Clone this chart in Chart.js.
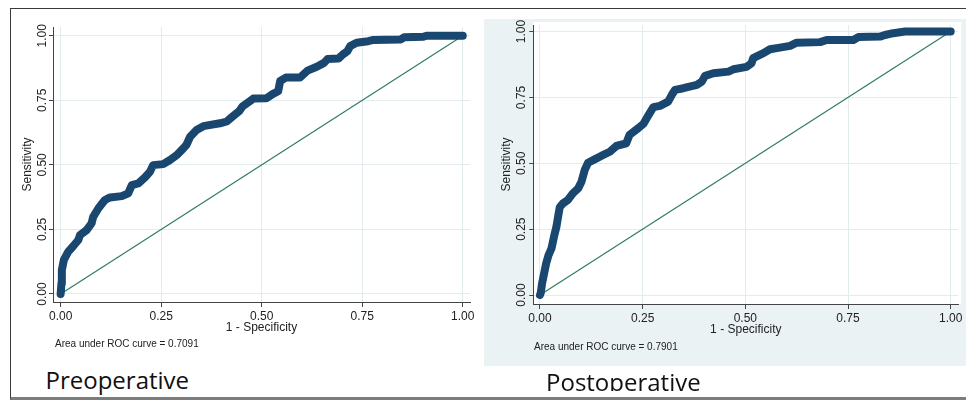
<!DOCTYPE html>
<html><head><meta charset="utf-8">
<script src="https://cdn.jsdelivr.net/npm/chart.js@4.4.1/dist/chart.umd.min.js"></script>
<style>
html,body{margin:0;padding:0;background:#fff;width:966px;height:403px;overflow:hidden;position:relative;font-family:"Liberation Sans",Arial,sans-serif;}
#frame{position:absolute;left:10px;top:8px;width:980px;height:392px;border-left:1.5px solid #3a3a3a;border-top:1.5px solid #3a3a3a;border-bottom:3px solid #7d7d7d;box-sizing:border-box;}
#panelR{position:absolute;left:484px;top:19px;width:482px;height:347px;background:#eaf2f3;}
canvas{position:absolute;}
#cPre{left:12px;top:12px;}
#cPost{left:486px;top:10px;}
.auc{position:absolute;font-size:10px;line-height:12px;color:#222;white-space:nowrap;}
.big{position:absolute;font-family:"Open Sans",sans-serif;font-size:24px;line-height:24px;color:#111;white-space:nowrap;}
#clip{position:absolute;left:0;top:0;width:966px;height:391px;overflow:hidden;}
</style></head>
<body>
<div id="frame"></div>
<div id="panelR"></div>
<canvas id="cPre" width="470" height="328"></canvas>
<canvas id="cPost" width="494" height="332"></canvas>
<div class="auc" style="left:55px;top:338px;">Area under ROC curve = 0.7091</div>
<div class="auc" style="left:534px;top:341px;">Area under ROC curve = 0.7901</div>
<div class="big" style="left:45.5px;top:367.5px;">Preoperative</div>
<div id="clip"><div class="big" style="left:546px;top:369.5px;">Postoperative</div></div>
<script>
// ---- data ----
const tickValues = [0, 0.25, 0.5, 0.75, 1];
const tickLabels = ['0.00', '0.25', '0.50', '0.75', '1.00'];
const xTitle = '1 - Specificity';
const yTitle = 'Sensitivity';
const refX = [0, 1];
const refY = [0, 1];

const preFpr = [0, 0.002, 0.003, 0.008, 0.019, 0.030, 0.044, 0.048, 0.065, 0.077, 0.081, 0.094, 0.110, 0.123, 0.152, 0.168, 0.177, 0.193, 0.210, 0.222, 0.230, 0.255, 0.272, 0.289, 0.305, 0.313, 0.322, 0.338, 0.355, 0.396, 0.413, 0.425, 0.444, 0.452, 0.472, 0.479, 0.512, 0.527, 0.541, 0.546, 0.560, 0.595, 0.614, 0.637, 0.655, 0.664, 0.691, 0.702, 0.713, 0.720, 0.736, 0.765, 0.778, 0.846, 0.854, 0.902, 0.910, 1.0];
const preTpr = [0, 0.041, 0.093, 0.132, 0.164, 0.183, 0.209, 0.228, 0.248, 0.274, 0.299, 0.332, 0.364, 0.374, 0.379, 0.390, 0.422, 0.428, 0.452, 0.473, 0.499, 0.503, 0.519, 0.538, 0.564, 0.578, 0.609, 0.635, 0.650, 0.661, 0.668, 0.684, 0.708, 0.726, 0.748, 0.757, 0.758, 0.774, 0.785, 0.825, 0.838, 0.838, 0.865, 0.880, 0.895, 0.910, 0.912, 0.928, 0.940, 0.960, 0.973, 0.979, 0.984, 0.986, 0.994, 0.996, 1.0, 1.0];

const postFpr = [0, 0.002, 0.005, 0.010, 0.015, 0.021, 0.028, 0.034, 0.040, 0.044, 0.048, 0.056, 0.068, 0.080, 0.093, 0.101, 0.109, 0.117, 0.133, 0.149, 0.170, 0.186, 0.210, 0.218, 0.239, 0.252, 0.265, 0.276, 0.292, 0.312, 0.321, 0.329, 0.349, 0.382, 0.394, 0.402, 0.422, 0.459, 0.471, 0.503, 0.515, 0.519, 0.544, 0.560, 0.584, 0.609, 0.625, 0.682, 0.698, 0.763, 0.775, 0.828, 0.840, 0.860, 0.889, 1.0];
const postTpr = [0, 0.009, 0.044, 0.082, 0.120, 0.152, 0.177, 0.221, 0.259, 0.297, 0.333, 0.348, 0.361, 0.386, 0.405, 0.430, 0.475, 0.502, 0.515, 0.528, 0.544, 0.566, 0.576, 0.608, 0.633, 0.650, 0.685, 0.713, 0.718, 0.734, 0.760, 0.779, 0.785, 0.798, 0.810, 0.832, 0.842, 0.848, 0.857, 0.866, 0.880, 0.899, 0.918, 0.933, 0.939, 0.946, 0.958, 0.960, 0.968, 0.968, 0.979, 0.981, 0.987, 0.994, 1.0, 1.0];

// ---- helpers ----
const FONT = '"Liberation Sans", Arial, sans-serif';
function pts(xs, ys){ return xs.map((x, i) => ({x: x, y: ys[i]})); }

function makeScale(isX, min, max, size, tickPad, tickLen, titlePad){
  return {
    type: 'linear', min: min, max: max,
    afterBuildTicks: s => { s.ticks = tickValues.map(v => ({value: v})); },
    afterFit: s => { if (isX) s.height = size; else s.width = size; },
    ticks: {
      autoSkip: false, padding: tickPad, color: '#222',
      font: {family: FONT, size: 12},
      minRotation: isX ? 0 : 90, maxRotation: isX ? 0 : 90,
      crossAlign: isX ? 'near' : 'center',
      callback: (v, i) => tickLabels[i]
    },
    grid: {color: '#e2ebee', lineWidth: 1, drawTicks: true, tickLength: tickLen, tickColor: '#444'},
    border: {display: true, color: '#444', width: 1},
    title: {display: true, text: isX ? xTitle : yTitle, color: '#222',
            font: {family: FONT, size: 12}, padding: titlePad}
  };
}

const whiteArea = {
  id: 'whiteArea',
  beforeDraw(chart, args, opts){
    if (!opts.on) return;
    const a = chart.chartArea, c = chart.ctx;
    c.save(); c.fillStyle = '#ffffff';
    c.fillRect(a.left, a.top - 3, a.right - a.left + 3, a.bottom - a.top + 3);
    c.restore();
  }
};

function makeChart(id, fpr, tpr, cfg){
  return new Chart(document.getElementById(id), {
    type: 'scatter',
    data: {datasets: [
      {data: pts(fpr, tpr), showLine: true, borderColor: '#1a476f', backgroundColor: '#1a476f',
       borderWidth: 8, pointRadius: 0, borderCapStyle: 'round', borderJoinStyle: 'round',
       order: 1, clip: false},
      {data: pts(refX, refY), showLine: true, borderColor: '#2f7d60', borderWidth: 1.2,
       pointRadius: 0, order: 2, clip: false}
    ]},
    options: {
      responsive: false, animation: false, devicePixelRatio: 1,
      layout: {padding: cfg.pad},
      plugins: {legend: {display: false}, tooltip: {enabled: false}, whiteArea: {on: cfg.white}},
      scales: {
        x: makeScale(true, cfg.xmin, cfg.xmax, cfg.xh, 2, 5, {top: 0, bottom: 0}),
        y: makeScale(false, cfg.ymin, cfg.ymax, cfg.yw, cfg.ytp, 4, {top: cfg.ytitle, bottom: 0})
      }
    },
    plugins: [whiteArea]
  });
}

makeChart('cPre', preFpr, preTpr, {
  pad: {left: 0, top: 15, right: 12, bottom: 5},
  xmin: -0.019, xmax: 1.018, ymin: -0.031, ymax: 1.034,
  xh: 33, yw: 41, ytp: -5.2, ytitle: 8.5, white: false
});
makeChart('cPost', postFpr, postTpr, {
  pad: {left: 0, top: 15, right: 21.7, bottom: 5},
  xmin: -0.0163, xmax: 1.0185, ymin: -0.034, ymax: 1.025,
  xh: 33, yw: 47.3, ytp: -4.4, ytitle: 13.3, white: true
});
</script>
</body></html>
